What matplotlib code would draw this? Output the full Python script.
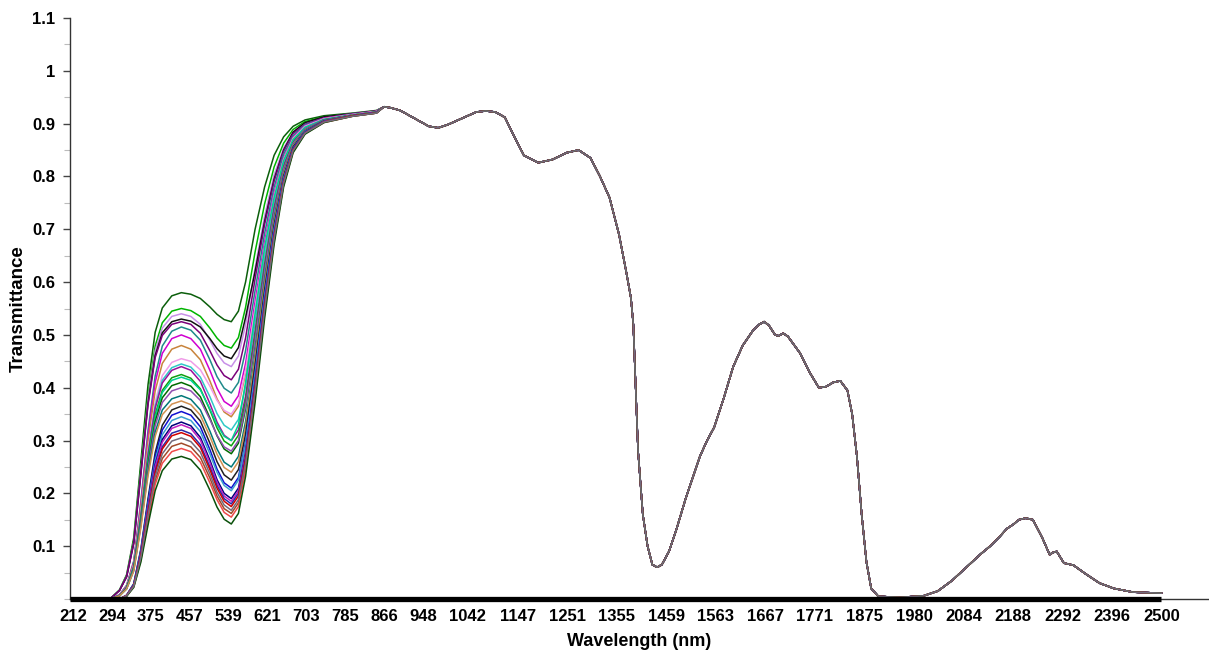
import matplotlib
matplotlib.use('Agg')
import matplotlib.pyplot as plt
from matplotlib.ticker import FixedLocator, MultipleLocator

plt.rcParams['font.family'] = ['Liberation Sans', 'DejaVu Sans']

# ---------------- data ----------------
tick_labels = ['212', '294', '375', '457', '539', '621', '703', '785', '866', '948',
               '1042', '1147', '1251', '1355', '1459', '1563', '1667', '1771', '1875',
               '1980', '2084', '2188', '2292', '2396', '2500']
tick_wl = [int(t) for t in tick_labels]

y_ticks = [0.1, 0.2, 0.3, 0.4, 0.5, 0.6, 0.7, 0.8, 0.9, 1.0, 1.1]
y_tick_labels = ['0.1', '0.2', '0.3', '0.4', '0.5', '0.6', '0.7', '0.8', '0.9', '1', '1.1']

# start of the record (all curves at zero)
start_wl = [206]
start_val = [0.0]

# visible region wavelengths (each sample differs here)
vis_wl = [290, 310, 325, 340, 355, 370, 385, 400, 420, 440, 460, 480, 500, 515, 530, 545,
          560, 575, 595, 615, 635, 655, 675, 700, 740, 800, 850]

s01 = [0, .017, .046, .116, .261, .406, .505, .551, .574, .580, .577, .569, .553, .539, .529, .525,
       .545, .600, .700, .780, .840, .875, .895, .907, .915, .920, .925]
s02 = [0, .017, .044, .110, .248, .385, .479, .523, .545, .550, .546, .535, .513, .494, .480, .475,
       .495, .552, .657, .748, .818, .863, .889, .904, .913, .919, .924]
s03 = [0, .016, .043, .108, .243, .378, .470, .513, .535, .540, .535, .520, .490, .465, .447, .440,
       .460, .519, .627, .725, .803, .854, .884, .901, .912, .919, .924]
s04 = [0, .016, .042, .106, .239, .371, .461, .504, .525, .530, .526, .515, .493, .474, .460, .455,
       .476, .533, .620, .715, .795, .850, .884, .902, .913, .919, .924]
s05 = [0, .016, .042, .105, .236, .368, .457, .499, .520, .525, .520, .503, .470, .443, .423, .415,
       .435, .494, .606, .709, .791, .848, .881, .899, .911, .918, .924]
s06 = [0, .008, .026, .072, .185, .319, .422, .479, .507, .515, .509, .490, .453, .421, .399, .390,
       .410, .470, .584, .692, .780, .842, .877, .898, .910, .918, .923]
s07 = [0, .008, .025, .070, .180, .310, .410, .465, .493, .500, .493, .473, .433, .399, .374, .365,
       .385, .446, .563, .676, .769, .835, .874, .896, .910, .918, .923]
s08 = [0, .007, .024, .067, .173, .298, .394, .446, .473, .480, .473, .453, .413, .379, .354, .345,
       .365, .427, .546, .663, .760, .831, .872, .894, .909, .917, .923]
s09 = [0, .007, .023, .064, .164, .282, .373, .423, .448, .455, .450, .434, .403, .376, .357, .350,
       .370, .432, .550, .666, .763, .832, .872, .895, .909, .917, .923]
s10 = [0, .007, .022, .062, .160, .276, .365, .414, .438, .445, .439, .420, .383, .351, .329, .320,
       .340, .403, .524, .647, .750, .824, .868, .893, .908, .917, .922]
s11 = [0, .007, .022, .062, .158, .273, .361, .409, .433, .440, .433, .412, .370, .335, .310, .300,
       .320, .384, .507, .634, .741, .820, .866, .891, .907, .916, .922]
s12 = [0, .006, .021, .060, .153, .264, .349, .395, .419, .425, .418, .398, .358, .324, .299, .290,
       .310, .374, .499, .628, .736, .817, .865, .891, .907, .916, .922]
s13 = [0, .006, .021, .059, .151, .260, .344, .391, .414, .420, .414, .396, .360, .330, .308, .300,
       .330, .410, .540, .665, .760, .830, .870, .893, .908, .916, .922]
s14 = [0, .006, .021, .057, .148, .254, .336, .381, .404, .410, .403, .383, .343, .309, .284, .275,
       .295, .360, .486, .618, .730, .813, .863, .889, .907, .916, .922]
s15 = [0, .006, .020, .056, .144, .248, .328, .372, .394, .400, .394, .376, .340, .310, .288, .280,
       .300, .365, .490, .621, .732, .815, .863, .890, .907, .916, .922]
s16 = [0, .006, .019, .054, .139, .239, .316, .358, .379, .385, .378, .358, .318, .284, .259, .250,
       .270, .336, .464, .602, .719, .807, .859, .888, .906, .916, .921]
s17 = [0, .006, .019, .053, .135, .233, .308, .349, .369, .375, .368, .348, .308, .274, .249, .240,
       .260, .326, .456, .595, .714, .805, .858, .887, .905, .916, .921]
s18 = [0, 0, .007, .029, .095, .190, .277, .329, .358, .365, .358, .337, .295, .260, .235, .225,
       .245, .312, .443, .585, .708, .801, .856, .886, .905, .915, .921]
s19 = [0, 0, .007, .028, .092, .185, .270, .320, .348, .355, .348, .326, .283, .246, .220, .210,
       .230, .297, .430, .576, .701, .797, .854, .885, .904, .915, .921]
s20 = [0, 0, .007, .028, .090, .179, .262, .311, .338, .345, .338, .317, .275, .240, .215, .205,
       .225, .293, .426, .572, .699, .796, .853, .885, .904, .915, .921]
s21 = [0, 0, .007, .027, .087, .174, .255, .302, .328, .335, .328, .306, .263, .226, .200, .190,
       .210, .278, .413, .563, .692, .792, .852, .884, .904, .915, .921]
s22 = [0, 0, .007, .026, .086, .172, .251, .297, .323, .330, .323, .301, .258, .221, .195, .185,
       .205, .273, .409, .559, .690, .791, .851, .883, .904, .915, .921]
s23 = [0, 0, .006, .026, .083, .166, .243, .288, .314, .320, .313, .292, .250, .215, .190, .180,
       .200, .268, .404, .556, .688, .790, .850, .883, .903, .915, .920]
s24 = [0, 0, .006, .025, .082, .164, .239, .284, .309, .315, .308, .287, .245, .210, .185, .175,
       .195, .264, .400, .553, .685, .789, .850, .882, .903, .915, .920]
s25 = [0, 0, .006, .024, .079, .159, .232, .275, .299, .305, .298, .278, .237, .202, .178, .168,
       .188, .257, .394, .548, .682, .787, .849, .882, .903, .914, .920]
s26 = [0, 0, .006, .024, .077, .153, .224, .266, .289, .295, .288, .268, .229, .195, .171, .162,
       .182, .251, .389, .544, .680, .785, .848, .882, .903, .914, .920]
s27 = [0, 0, .006, .023, .074, .148, .217, .257, .279, .285, .279, .259, .220, .188, .164, .155,
       .175, .244, .383, .540, .677, .784, .847, .881, .902, .914, .920]
s28 = [0, 0, .005, .022, .070, .140, .205, .243, .265, .270, .264, .244, .206, .174, .151, .142,
       .162, .232, .372, .531, .671, .780, .845, .880, .902, .914, .920]

# drawing order (the last one lies on top in the shared infrared part)
vis_series = [s01, s02, s03, s04, s05, s06, s07, s08, s09, s10, s11, s12, s13, s14,
              s15, s16, s17, s18, s19, s20, s21, s22, s23, s24, s26, s27, s28, s25]

series_colors = ['#0b5e0b', '#00b400', '#c890e8', '#111111', '#7a007a', '#1f8a8a', '#d000d0',
                 '#c8843c', '#f09ce8', '#30c8c8', '#9a109a', '#10a010', '#00d090', '#006a00',
                 '#9050b0', '#007878', '#d09050', '#202020', '#1010d0', '#3aa0d0', '#00007a',
                 '#c020c0', '#2a2aa8', '#d00000', '#a04a2a', '#f04a4a', '#0a500a', '#736a7c']

# near / short-wave infrared region (all samples nearly identical)
nir_wl = [866, 880, 900, 930, 960, 980, 1000, 1030, 1060, 1080, 1100, 1120, 1140, 1160,
          1190, 1220, 1250, 1275, 1300, 1320, 1340, 1360, 1375, 1385, 1390, 1395, 1400,
          1410, 1420, 1430, 1440, 1450, 1465, 1480, 1500, 1515, 1530, 1545, 1560, 1580,
          1600, 1620, 1642, 1655, 1665, 1675, 1688, 1695, 1705, 1715, 1740, 1760, 1780,
          1795, 1810, 1825, 1840, 1850, 1860, 1870, 1880, 1890, 1905, 1950, 2000, 2030,
          2060, 2090, 2120, 2140, 2160, 2175, 2190, 2200, 2215, 2230, 2250, 2265, 2272,
          2280, 2295, 2315, 2340, 2370, 2400, 2440, 2500]
nir_val = [0.932, 0.930, 0.925, 0.910, 0.895, 0.892, 0.898, 0.910, 0.922, 0.924, 0.922,
           0.912, 0.875, 0.840, 0.826, 0.832, 0.845, 0.850, 0.835, 0.800, 0.760, 0.690,
           0.620, 0.570, 0.520, 0.400, 0.280, 0.160, 0.100, 0.065, 0.060, 0.065, 0.090,
           0.130, 0.190, 0.230, 0.270, 0.300, 0.325, 0.380, 0.440, 0.480, 0.509, 0.520,
           0.525, 0.518, 0.500, 0.498, 0.503, 0.497, 0.466, 0.430, 0.400, 0.402, 0.410,
           0.413, 0.395, 0.350, 0.270, 0.160, 0.070, 0.020, 0.005, 0.003, 0.006, 0.015,
           0.035, 0.060, 0.085, 0.100, 0.118, 0.133, 0.142, 0.150, 0.153, 0.150, 0.115,
           0.084, 0.088, 0.090, 0.068, 0.064, 0.048, 0.030, 0.020, 0.013, 0.011]

# ---------------- figure ----------------
W, H = 1209, 652
fig = plt.figure(figsize=(W / 100, H / 100), dpi=100)
ax = fig.add_axes([70 / W, 53 / H, 1 - 70 / W, (599 - 18) / H])

for vals, col in zip(vis_series, series_colors):
    x = start_wl + vis_wl + nir_wl
    y = start_val + vals + nir_val
    ax.plot(x, y, color=col, lw=1.1, solid_joinstyle='round')

# thick base bar along the recorded wavelength range
ax.plot([start_wl[0], nir_wl[-1]], [0, 0], color='black', lw=3.8,
        solid_capstyle='butt', clip_on=False, zorder=5)

ax.set_xlim(206, 2600)
ax.set_ylim(0, 1.1)

ax.xaxis.set_major_locator(FixedLocator(tick_wl))
ax.set_xticklabels(tick_labels, fontsize=12, fontweight='bold')
ax.tick_params(axis='x', length=0, pad=7)

ax.yaxis.set_major_locator(FixedLocator(y_ticks))
ax.set_yticklabels(y_tick_labels, fontsize=12, fontweight='bold')
ax.yaxis.set_minor_locator(MultipleLocator(0.05))
ax.tick_params(axis='y', which='major', length=5, width=1, color='#444444', pad=5.5)
ax.tick_params(axis='y', which='minor', length=4, width=0.8, color='#bbbbbb')

for side in ['top', 'right']:
    ax.spines[side].set_visible(False)
ax.spines['left'].set_color('#333333')
ax.spines['left'].set_linewidth(1.0)
ax.spines['bottom'].set_color('#333333')
ax.spines['bottom'].set_linewidth(1.0)

ax.set_xlabel('Wavelength (nm)', fontsize=13, fontweight='bold')
ax.xaxis.set_label_coords(0.5, -0.058)
ax.set_ylabel('Transmittance', fontsize=13.5, fontweight='bold')
ax.yaxis.set_label_coords(-0.038, 0.5)

fig.savefig('out.png', dpi=100)
